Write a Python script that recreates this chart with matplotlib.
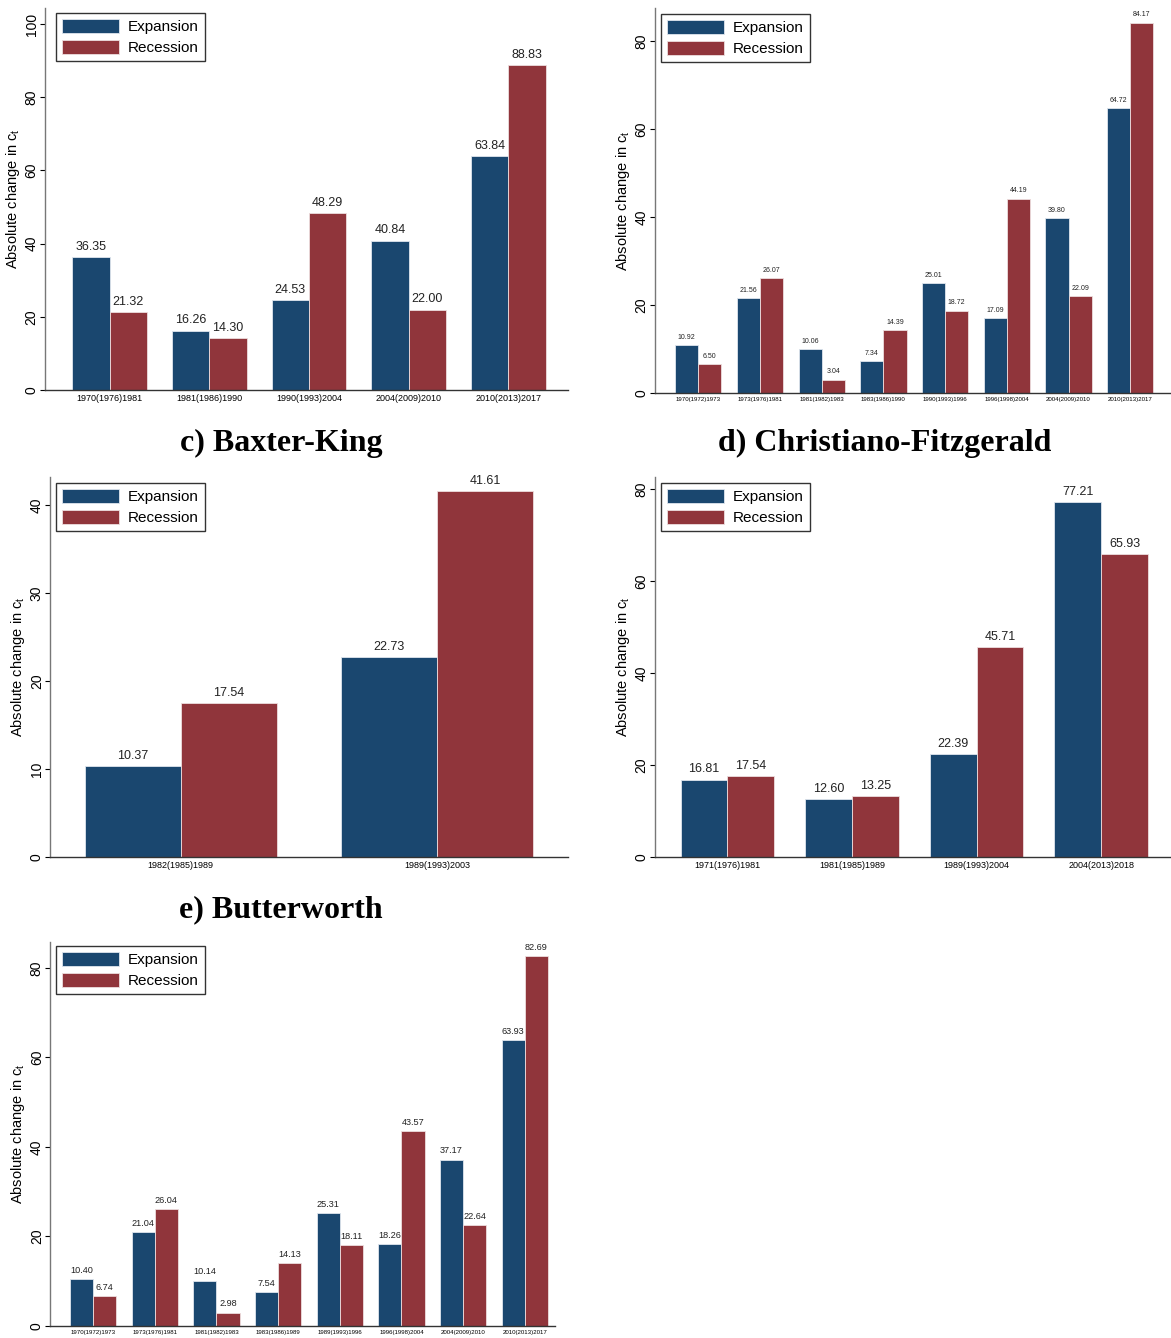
import matplotlib
matplotlib.use("Agg")
import matplotlib.pyplot as plt
import numpy as np
from matplotlib.patches import Patch

plt.rcParams['font.family'] = ['Liberation Sans', 'DejaVu Sans']
plt.rcParams['mathtext.fontset'] = 'custom'
plt.rcParams['mathtext.rm'] = 'Liberation Sans'

# ---- data ----
a_cats = ["1970(1976)1981", "1981(1986)1990", "1990(1993)2004", "2004(2009)2010", "2010(2013)2017"]
a_exp = [36.35, 16.26, 24.53, 40.84, 63.84]
a_rec = [21.32, 14.30, 48.29, 22.00, 88.83]

b_cats = ["1970(1972)1973", "1973(1976)1981", "1981(1982)1983", "1983(1986)1990",
          "1990(1993)1996", "1996(1998)2004", "2004(2009)2010", "2010(2013)2017"]
b_exp = [10.92, 21.56, 10.06, 7.34, 25.01, 17.09, 39.80, 64.72]
b_rec = [6.50, 26.07, 3.04, 14.39, 18.72, 44.19, 22.09, 84.17]

c_cats = ["1982(1985)1989", "1989(1993)2003"]
c_exp = [10.37, 22.73]
c_rec = [17.54, 41.61]

d_cats = ["1971(1976)1981", "1981(1985)1989", "1989(1993)2004", "2004(2013)2018"]
d_exp = [16.81, 12.60, 22.39, 77.21]
d_rec = [17.54, 13.25, 45.71, 65.93]

e_cats = ["1970(1972)1973", "1973(1976)1981", "1981(1982)1983", "1983(1986)1989",
          "1989(1993)1996", "1996(1998)2004", "2004(2009)2010", "2010(2013)2017"]
e_exp = [10.40, 21.04, 10.14, 7.54, 25.31, 18.26, 37.17, 63.93]
e_rec = [6.74, 26.04, 2.98, 14.13, 18.11, 43.57, 22.64, 82.69]

series_names = ["Expansion", "Recession"]
titles = ["c) Baxter-King", "d) Christiano-Fitzgerald", "e) Butterworth"]

BLUE = "#1a476f"
RED = "#90353b"

W, H = 1171, 1338
fig = plt.figure(figsize=(W / 100, H / 100), dpi=100)


def px_axes(left, right, top, bottom):
    return fig.add_axes([left / W, 1 - bottom / H, (right - left) / W, (bottom - top) / H])


def panel(left, right, top, bottom, cats, exp, rec, ymax, yticks, xlim,
          vfs, xfs, leg_xy):
    ax = px_axes(left, right, top, bottom)
    x = np.arange(len(cats))
    w = 0.375
    b1 = ax.bar(x - w / 2, exp, w, color=BLUE, edgecolor="#dfe6ee", linewidth=0.6)
    b2 = ax.bar(x + w / 2, rec, w, color=RED, edgecolor="#eddede", linewidth=0.6)
    for bars, vals in ((b1, exp), (b2, rec)):
        for r, v in zip(bars, vals):
            ax.annotate(f"{v:.2f}", (r.get_x() + r.get_width() / 2, v),
                        xytext=(0, 3), textcoords="offset points",
                        ha="center", va="bottom", fontsize=vfs, color="#222222")
    ax.set_xlim(*xlim)
    ax.set_ylim(0, ymax)
    ax.set_yticks(yticks)
    ax.set_yticklabels([str(t) for t in yticks], rotation=90, va="center", fontsize=10)
    ax.set_xticks(x)
    ax.set_xticklabels(cats, fontsize=xfs)
    ax.tick_params(axis="x", length=0, pad=3)
    ax.tick_params(axis="y", length=3.5, width=0.8, direction="out", pad=1)
    for s in ("top", "right"):
        ax.spines[s].set_visible(False)
    ax.spines["left"].set_color("#777777")
    ax.spines["left"].set_linewidth(1.0)
    ax.spines["bottom"].set_color("#333333")
    ax.spines["bottom"].set_linewidth(1.0)
    ax.set_ylabel(r"Absolute change in c$_\mathregular{t}$", fontsize=10.5, labelpad=2)
    handles = [Patch(facecolor=BLUE, edgecolor="#dfe6ee", linewidth=0.6),
               Patch(facecolor=RED, edgecolor="#eddede", linewidth=0.6)]
    leg = ax.legend(handles, series_names, loc="upper left",
                    bbox_to_anchor=(leg_xy[0] / W, 1 - leg_xy[1] / H),
                    bbox_transform=fig.transFigure, borderaxespad=0,
                    fontsize=11, handlelength=3.7, handleheight=1.0,
                    labelspacing=0.38, handletextpad=0.6, borderpad=0.4,
                    fancybox=False, framealpha=1)
    leg.get_frame().set_edgecolor("#333333")
    leg.get_frame().set_linewidth(1.0)
    return ax


# a) top-left
panel(45, 568, 8, 390, a_cats, a_exp, a_rec, 104.4, [0, 20, 40, 60, 80, 100],
      (-0.65, 4.6), 9, 6.5, (56, 13))
# b) top-right
panel(655, 1171, 8, 393, b_cats, b_exp, b_rec, 87.5, [0, 20, 40, 60, 80],
      (-0.7, 7.66), 5, 4.4, (661, 14))
# c) Baxter-King
panel(50, 568, 477, 857, c_cats, c_exp, c_rec, 43.2, [0, 10, 20, 30, 40],
      (-0.51, 1.51), 9, 6.5, (56, 483))
# d) Christiano-Fitzgerald
panel(655, 1171, 477, 857, d_cats, d_exp, d_rec, 82.6, [0, 20, 40, 60, 80],
      (-0.58, 3.56), 9, 6.5, (661, 483))
# e) Butterworth
panel(50, 555, 942, 1326, e_cats, e_exp, e_rec, 85.8, [0, 20, 40, 60, 80],
      (-0.7, 7.49), 6.6, 4.4, (56, 946))

title_kw = dict(fontsize=23, fontweight="bold", family=["Liberation Serif", "DejaVu Serif"],
                ha="center", va="center")
fig.text(281 / W, 1 - 443 / H, titles[0], **title_kw)
fig.text(885 / W, 1 - 443 / H, titles[1], **title_kw)
fig.text(281 / W, 1 - 910 / H, titles[2], **title_kw)

fig.savefig("out.png", dpi=100, facecolor="white")
